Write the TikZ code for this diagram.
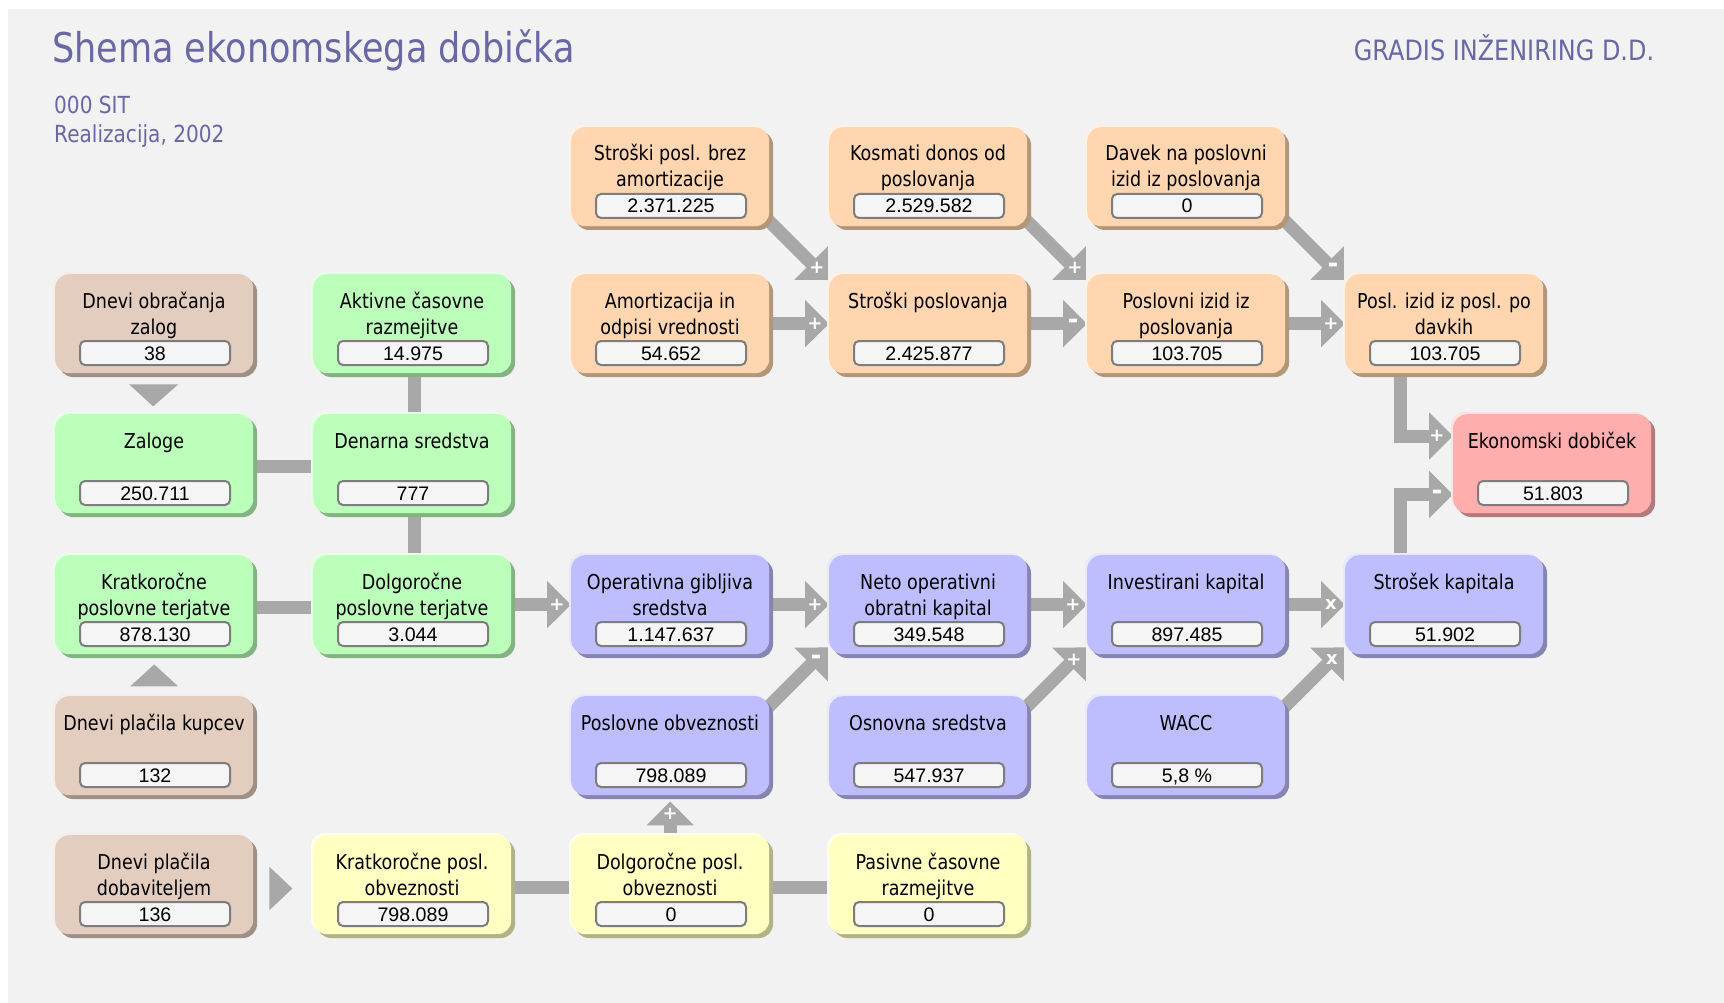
\documentclass[tikz,border=0pt]{standalone}
\usepackage{fontspec}
\setmainfont{DejaVu Sans}[FakeStretch=0.855]
\newfontfamily\numfont{Liberation Sans}
\newfontfamily\sgnfont{DejaVu Sans}
\usetikzlibrary{arrows.meta}
\definecolor{panel}{RGB}{242,242,242}
\definecolor{titlecol}{RGB}{104,104,166}
\definecolor{agray}{RGB}{168,168,168}
\definecolor{fborder}{RGB}{125,125,125}
\definecolor{ffill}{RGB}{245,245,245}
\definecolor{tan}{RGB}{227,205,191}
\definecolor{grn}{RGB}{187,255,187}
\definecolor{org}{RGB}{255,214,175}
\definecolor{pur}{RGB}{190,190,255}
\definecolor{yel}{RGB}{255,255,194}
\definecolor{pnk}{RGB}{255,174,174}
\pgfdeclarelayer{back}
\pgfdeclarelayer{conn}
\pgfsetlayers{back,conn,main}
\tikzset{
  boxbody/.style={rectangle, rounded corners=14pt, minimum width=198pt, minimum height=99pt, inner sep=0pt, anchor=north west},
  field/.style={rectangle, rounded corners=5pt, draw=fborder, line width=2pt, fill=ffill, minimum width=150pt, minimum height=24pt, inner sep=0pt, font=\numfont\fontsize{19.6}{22}\selectfont, text height=14pt, text depth=0pt},
  ttl/.style={anchor=base, inner sep=0pt, font=\fontsize{20.5}{24}\selectfont},
  arr/.style={draw=agray, line width=13pt, line join=miter, -{Triangle[length=24pt,width=46pt]}},
  bar/.style={draw=agray, line width=13pt},
  sgn/.style={text=white, inner sep=0pt, font=\sgnfont\bfseries\fontsize{18}{20}\selectfont},
  sgnm/.style={text=white, inner sep=0pt, font=\sgnfont\bfseries\fontsize{26}{28}\selectfont},
  hdr/.style={text=titlecol, inner sep=0pt, anchor=base west},
}
\newcommand\ebox[7]{%
  \fill[#4!70!black, rounded corners=14pt] (#2+4,#3+4) rectangle ++(198,99);
  \fill[#4!35!white, rounded corners=14pt] (#2-2,#3-2) rectangle ++(198,99);
  \node[boxbody, fill=#4] (#1) at (#2,#3) {};
  \node[ttl] at (#2+99,#3+34) {#5};
  \node[ttl] at (#2+99,#3+60) {#6};
  \node[field] (#1v) at (#2+100,#3+79) {#7};
}
\begin{document}
\begin{tikzpicture}[x=1pt,y=-1pt]
\useasboundingbox (0,0) rectangle (1724,1003);
\begin{pgfonlayer}{back}
\fill[panel] (8,9) rectangle (1724,1003);
\end{pgfonlayer}

\node[hdr, font=\fontsize{41}{48}\selectfont] (title) at (52,63) {Shema ekonomskega dobička};
\node[hdr, font=\fontsize{23.5}{27}\selectfont] (unit) at (54,114) {000 SIT};
\node[hdr, font=\fontsize{23.5}{27}\selectfont] (real) at (54,143) {Realizacija, 2002};
\node[hdr, anchor=base, font=\fontsize{28}{32}\selectfont] (firm) at (1504,61) {GRADIS INŽENIRING D.D.};

% row 1
\ebox{spb}{571}{127}{org}{Stroški posl. brez}{amortizacije}{2.371.225}
\ebox{kdo}{829}{127}{org}{Kosmati donos od}{poslovanja}{2.529.582}
\ebox{dav}{1087}{127}{org}{Davek na poslovni}{izid iz poslovanja}{0}
% row 2
\ebox{doz}{55}{274}{tan}{Dnevi obračanja}{zalog}{38}
\ebox{acr}{313}{274}{grn}{Aktivne časovne}{razmejitve}{14.975}
\ebox{amo}{571}{274}{org}{Amortizacija in}{odpisi vrednosti}{54.652}
\ebox{sp}{829}{274}{org}{Stroški poslovanja}{}{2.425.877}
\ebox{piz}{1087}{274}{org}{Poslovni izid iz}{poslovanja}{103.705}
\ebox{pid}{1345}{274}{org}{Posl. izid iz posl. po}{davkih}{103.705}
% row 3
\ebox{zal}{55}{414}{grn}{Zaloge}{}{250.711}
\ebox{den}{313}{414}{grn}{Denarna sredstva}{}{777}
\ebox{ekd}{1453}{414}{pnk}{Ekonomski dobiček}{}{51.803}
% row 4
\ebox{kpt}{55}{555}{grn}{Kratkoročne}{poslovne terjatve}{878.130}
\ebox{dpt}{313}{555}{grn}{Dolgoročne}{poslovne terjatve}{3.044}
\ebox{ogs}{571}{555}{pur}{Operativna gibljiva}{sredstva}{1.147.637}
\ebox{nok}{829}{555}{pur}{Neto operativni}{obratni kapital}{349.548}
\ebox{ivk}{1087}{555}{pur}{Investirani kapital}{}{897.485}
\ebox{skk}{1345}{555}{pur}{Strošek kapitala}{}{51.902}
% row 5
\ebox{dpk}{55}{696}{tan}{Dnevi plačila kupcev}{}{132}
\ebox{pob}{571}{696}{pur}{Poslovne obveznosti}{}{798.089}
\ebox{osr}{829}{696}{pur}{Osnovna sredstva}{}{547.937}
\ebox{wac}{1087}{696}{pur}{WACC}{}{5,8 \%}
% row 6
\ebox{dpd}{55}{835}{tan}{Dnevi plačila}{dobaviteljem}{136}
\ebox{kpo}{313}{835}{yel}{Kratkoročne posl.}{obveznosti}{798.089}
\ebox{dpo}{571}{835}{yel}{Dolgoročne posl.}{obveznosti}{0}
\ebox{pcr}{829}{835}{yel}{Pasivne časovne}{razmejitve}{0}

\begin{pgfonlayer}{conn}
% plain bars
\draw[bar] ([yshift=-2.5pt]zal.east) -- ([yshift=-2.5pt]den.west);
\draw[bar] ([xshift=2.5pt]acr.south) -- ([xshift=2.5pt]den.north);
\draw[bar] ([xshift=2.5pt]den.south) -- ([xshift=2.5pt]dpt.north);
\draw[bar] ([yshift=-2.5pt]kpt.east) -- ([yshift=-2.5pt]dpt.west);
\draw[bar] ([yshift=-3pt]kpo.east) -- ([yshift=-3pt]dpo.west);
\draw[bar] ([yshift=-3pt]dpo.east) -- ([yshift=-3pt]pcr.west);
% horizontal arrows
\draw[arr] (amo.east) -- (sp.west);
\draw[arr] (sp.east) -- (piz.west);
\draw[arr] (piz.east) -- (pid.west);
\draw[arr] (dpt.east) -- (ogs.west);
\draw[arr] (ogs.east) -- (nok.west);
\draw[arr] (nok.east) -- (ivk.west);
\draw[arr] (ivk.east) -- (skk.west);
% diagonal down-right
\draw[arr] ([xshift=-11pt,yshift=16pt]spb.south east) -- ([xshift=-1pt,yshift=-6pt]sp.north west);
\draw[arr] ([xshift=-11pt,yshift=16pt]kdo.south east) -- ([xshift=-1pt,yshift=-6pt]piz.north west);
\draw[arr] ([xshift=-11pt,yshift=16pt]dav.south east) -- ([xshift=-1pt,yshift=-6pt]pid.north west);
% diagonal up-right
\draw[arr] ([xshift=-11pt,yshift=-21pt]pob.north east) -- ([xshift=-1pt,yshift=7pt]nok.south west);
\draw[arr] ([xshift=-11pt,yshift=-21pt]osr.north east) -- ([xshift=-1pt,yshift=7pt]ivk.south west);
\draw[arr] ([xshift=-11pt,yshift=-21pt]wac.north east) -- ([xshift=-1pt,yshift=7pt]skk.south west);
% vertical
\draw[arr] (dpo.north) -- ([yshift=-6pt]pob.south);
% to Ekonomski dobicek
\draw[arr] ([xshift=-43.5pt]pid.south) |- ([yshift=-22pt]ekd.north west);
\draw[arr] ([xshift=-43.5pt]skk.north) |- ([yshift=-80.5pt]ekd.north west);
\end{pgfonlayer}

% plain triangles
\fill[agray] ([xshift=-25pt,yshift=-11pt]doz.south) -- ([xshift=24pt,yshift=-11pt]doz.south) -- ([xshift=-1pt,yshift=-33pt]doz.south) -- cycle;
\fill[agray] ([xshift=-24pt,yshift=-32pt]kpt.south) -- ([xshift=24pt,yshift=-32pt]kpt.south) -- ([yshift=-10pt]kpt.south) -- cycle;
\fill[agray] ([xshift=16pt,yshift=17.9pt]dpd.east) -- ([xshift=16pt,yshift=-25.5pt]dpd.east) -- ([xshift=39pt,yshift=-3.8pt]dpd.east) -- cycle;

% signs
\node[sgn] at ([xshift=-14pt]sp.west) {+};
\node[sgnm] at ([xshift=-14pt]piz.west) {-};
\node[sgn] at ([xshift=-14pt]pid.west) {+};
\node[sgn] at ([xshift=-14pt]ogs.west) {+};
\node[sgn] at ([xshift=-14pt]nok.west) {+};
\node[sgn] at ([xshift=-14pt]ivk.west) {+};
\node[sgn] at ([xshift=-14pt]skk.west) {x};
\node[sgn] at ([xshift=-12pt,yshift=6pt]sp.north west) {+};
\node[sgn] at ([xshift=-12pt,yshift=6pt]piz.north west) {+};
\node[sgnm] at ([xshift=-12pt,yshift=6pt]pid.north west) {-};
\node[sgnm] at ([xshift=-13pt,yshift=-5pt]nok.south west) {-};
\node[sgn] at ([xshift=-13pt,yshift=-5pt]ivk.south west) {+};
\node[sgn] at ([xshift=-13pt,yshift=-5pt]skk.south west) {x};
\node[sgn] at ([yshift=-18pt]pob.south) {+};
\node[sgn] at ([xshift=-16pt,yshift=-22pt]ekd.north west) {+};
\node[sgnm] at ([xshift=-16pt,yshift=-80.5pt]ekd.north west) {-};
\end{tikzpicture}
\end{document}
